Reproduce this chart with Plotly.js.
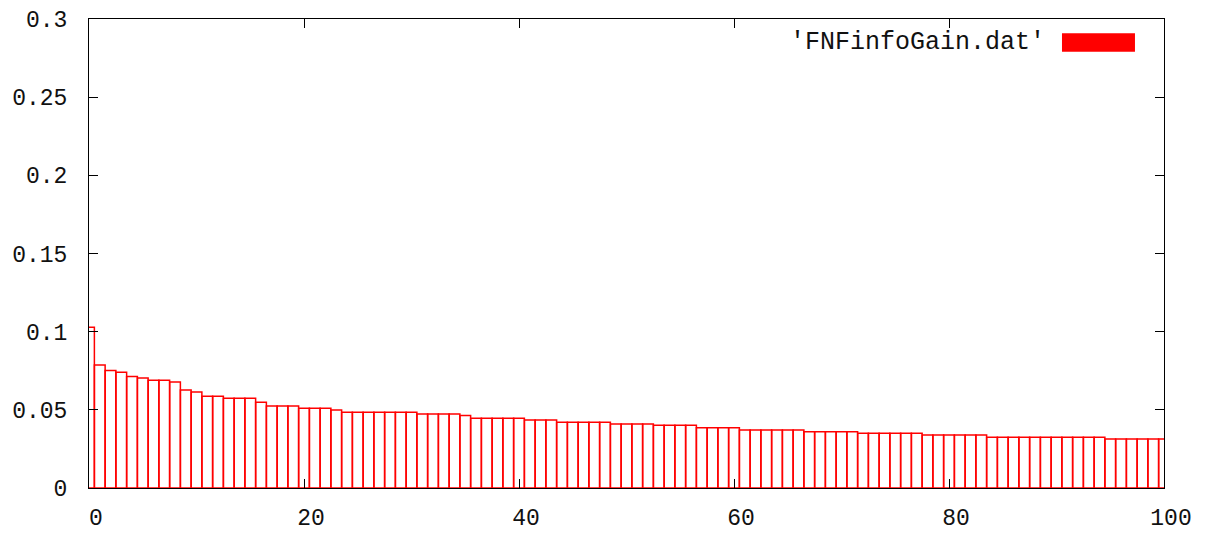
<!DOCTYPE html>
<html>
<head>
<meta charset="utf-8">
<script src="https://cdn.plot.ly/plotly-3.0.1.min.js"></script>
<style>html,body{margin:0;padding:0;background:#fff;}#chart{width:1206px;height:535px;}</style>
</head>
<body>
<div id="chart"></div>
<script>
var seriesName = "'FNFinfoGain.dat'";
var xValues = [0,1,2,3,4,5,6,7,8,9,10,11,12,13,14,15,16,17,18,19,20,21,22,23,24,25,26,27,28,29,30,31,32,33,34,35,36,37,38,39,40,41,42,43,44,45,46,47,48,49,50,51,52,53,54,55,56,57,58,59,60,61,62,63,64,65,66,67,68,69,70,71,72,73,74,75,76,77,78,79,80,81,82,83,84,85,86,87,88,89,90,91,92,93,94,95,96,97,98,99,100];
var gainValues = [
  0.1028, 0.0787, 0.0751, 0.0740, 0.0714, 0.0704, 0.0689, 0.0689, 0.0678, 0.0627,
  0.0614, 0.0587, 0.0587, 0.0574, 0.0574, 0.0574, 0.0548, 0.0524, 0.0524, 0.0524,
  0.0510, 0.0510, 0.0510, 0.0499, 0.0484, 0.0484, 0.0484, 0.0484, 0.0484, 0.0484,
  0.0484, 0.0473, 0.0473, 0.0473, 0.0473, 0.0463, 0.0446, 0.0446, 0.0446, 0.0446,
  0.0446, 0.0435, 0.0435, 0.0435, 0.0420, 0.0420, 0.0420, 0.0420, 0.0420, 0.0410,
  0.0410, 0.0410, 0.0410, 0.0402, 0.0402, 0.0402, 0.0402, 0.0386, 0.0386, 0.0386,
  0.0386, 0.0371, 0.0371, 0.0371, 0.0371, 0.0371, 0.0371, 0.0360, 0.0360, 0.0360,
  0.0360, 0.0360, 0.0350, 0.0350, 0.0350, 0.0350, 0.0350, 0.0350, 0.0339, 0.0339,
  0.0339, 0.0339, 0.0339, 0.0339, 0.0324, 0.0324, 0.0324, 0.0324, 0.0324, 0.0324,
  0.0324, 0.0324, 0.0324, 0.0324, 0.0324, 0.0313, 0.0313, 0.0313, 0.0313, 0.0313,
  0.0313
];
var xTickVals = [0, 20, 40, 60, 80, 100];
var xTickText = ["0", "20", "40", "60", "80", "100"];
var yTickVals = [0, 0.05, 0.1, 0.15, 0.2, 0.25, 0.3];
var yTickText = ["0", "0.05", "0.1", "0.15", "0.2", "0.25", "0.3"];

var font = {family: "Liberation Mono, DejaVu Sans Mono, monospace", size: 23, color: "#111"};
var legendFont = {family: "Liberation Mono, DejaVu Sans Mono, monospace", size: 25, color: "#111"};

var trace = {
  type: "bar",
  x: xValues,
  y: gainValues,
  width: 1,
  name: seriesName,
  marker: {color: "rgba(255,255,255,0)", line: {color: "#ff0000", width: 1.5}},
  showlegend: false,
  hoverinfo: "skip"
};

var layout = {
  width: 1206,
  height: 535,
  margin: {l: 89, r: 42, t: 19, b: 47},
  paper_bgcolor: "#fff",
  plot_bgcolor: "#fff",
  font: font,
  bargap: 0,
  showlegend: false,
  xaxis: {
    range: [0, 100],
    tickmode: "array",
    tickvals: xTickVals,
    ticktext: xTickText,
    ticks: "inside",
    ticklen: 9,
    tickwidth: 1,
    tickcolor: "#000",
    showline: true,
    linecolor: "#000",
    linewidth: 1,
    mirror: "ticks",
    showgrid: false,
    zeroline: false,
    ticklabelstandoff: 8,
    ticklabelshift: 7,
    tickfont: font
  },
  yaxis: {
    range: [0, 0.3],
    tickmode: "array",
    tickvals: yTickVals,
    ticktext: yTickText,
    ticks: "inside",
    ticklen: 9,
    tickwidth: 1,
    tickcolor: "#000",
    showline: true,
    linecolor: "#000",
    linewidth: 1,
    mirror: "ticks",
    showgrid: false,
    zeroline: false,
    ticklabelstandoff: 16,
    tickfont: font
  },
  annotations: [{
    xref: "paper", yref: "paper",
    x: 0.8909, y: 0.950,
    xanchor: "right", yanchor: "middle",
    text: seriesName,
    showarrow: false,
    font: legendFont
  }],
  shapes: [{
    type: "rect", xref: "paper", yref: "paper",
    x0: 0.9051, x1: 0.9730, y0: 0.9303, y1: 0.9695,
    fillcolor: "#ff0000",
    line: {width: 0}
  }]
};

Plotly.newPlot("chart", [trace], layout, {displayModeBar: false, staticPlot: true});
</script>
</body>
</html>
